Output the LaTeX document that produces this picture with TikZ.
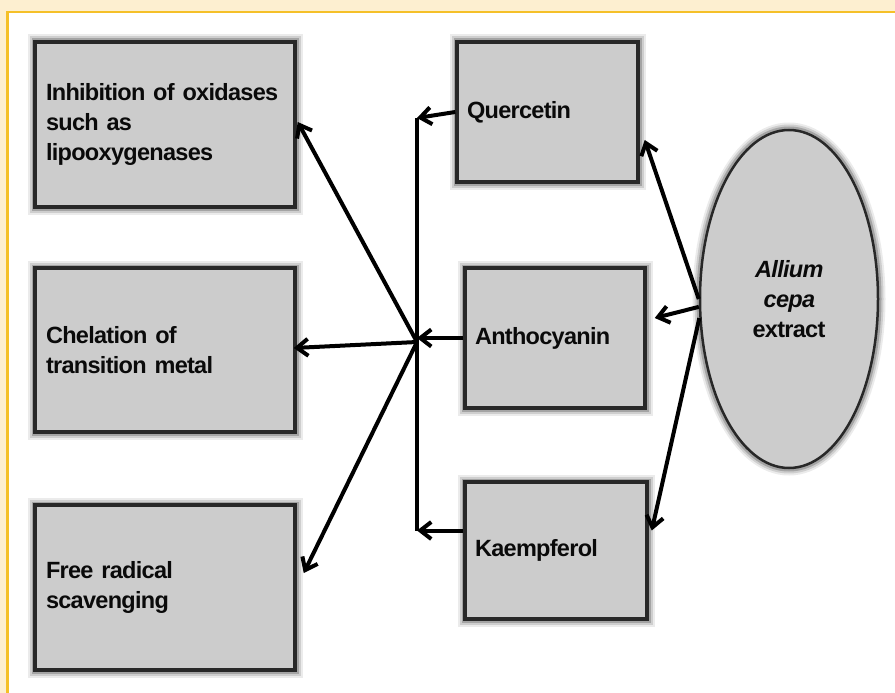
\documentclass[tikz,border=0pt]{standalone}
\usepackage{fontspec}
\setmainfont{Liberation Sans}[LetterSpace=-3,WordSpace=0.75]
\usetikzlibrary{arrows.meta,shapes.geometric,calc}
\definecolor{cream}{RGB}{253,239,208}
\definecolor{gold}{RGB}{245,192,40}
\definecolor{boxfill}{RGB}{204,204,204}
\definecolor{boxline}{RGB}{40,40,40}
\definecolor{ink}{RGB}{10,10,10}
\begin{document}
\begin{tikzpicture}[x=1pt,y=-1pt,
  glow/.style={preaction={draw=black, draw opacity=0.08, line width=15pt},
               preaction={draw=black, draw opacity=0.12, line width=11pt},
               preaction={draw=black, draw opacity=0.20, line width=7pt}},
  box/.style={glow, draw=boxline, line width=3.5pt, fill=boxfill, rectangle,
              inner xsep=10pt, inner ysep=0pt, align=left, text=ink,
              font=\fontsize{23.5pt}{30pt}\selectfont\bfseries},
  arr/.style={line width=4pt, draw=black,
              -{Straight Barb[length=11pt,width=17pt,line width=4pt]}},
  plain/.style={line width=4pt, draw=black}]
\useasboundingbox (0,0) rectangle (895,693);
\fill[cream] (0,0) rectangle (895,693);
\fill[white] (9,13) rectangle (895,693);
\draw[gold, line width=2.6pt] (7.5,693) -- (7.5,12) -- (895,12);

% left boxes
\node[box, minimum width=260pt, minimum height=165pt, text width=238pt] (b1) at (165,124.5)
  {Inhibition of oxidases\\such as\\lipooxygenases};
\node[box, minimum width=260pt, minimum height=164pt, text width=238pt] (b2) at (165,350)
  {Chelation of\\transition metal};
\node[box, minimum width=260pt, minimum height=165pt, text width=238pt] (b3) at (165,587.5)
  {Free radical\\scavenging};

% middle boxes
\node[box, minimum width=181pt, minimum height=140pt, text width=161pt] (q) at (547.5,112) {Quercetin};
\node[box, minimum width=180pt, minimum height=140pt, text width=160pt] (a) at (555,338) {Anthocyanin};
\node[box, minimum width=182pt, minimum height=137pt, text width=162pt] (k) at (556,550.5) {Kaempferol};

% ellipse
\node[glow, ellipse, draw=boxline, line width=2.5pt, fill=boxfill, minimum width=178pt,
      minimum height=338pt, inner sep=0pt, align=center, text=ink,
      font=\fontsize{23.5pt}{30pt}\selectfont\bfseries] (e) at (789,299)
  {\textit{Allium}\\\textit{cepa}\\extract};

% collector line
\coordinate (vtop) at (417,118);
\coordinate (ks) at ([yshift=20pt]k.west);
\coordinate (vbot) at (417,530.5);
\coordinate (hub) at (417,342);
\draw[plain] (vtop) -- (vbot);

\draw[arr] (q.west) -- (vtop);
\draw[arr] (a.west) -- (a.west -| vtop);
\draw[arr] (ks) -- (vbot);

\draw[arr] (hub) -- ([xshift=1pt,yshift=2.5pt]b1.east);
\draw[arr] (hub) -- ([xshift=-3pt,yshift=2pt]b2.east);
\draw[arr] (hub) -- ([xshift=7pt,yshift=14.5pt]b3.east);

\draw[arr] (e.180) -- ([xshift=5pt,yshift=-28pt]q.east);
\draw[arr] (e.185) -- ([xshift=8pt,yshift=20pt]a.east);
\draw[arr] (e.192) -- ([xshift=3pt,yshift=20pt]k.east);
\end{tikzpicture}
\end{document}
